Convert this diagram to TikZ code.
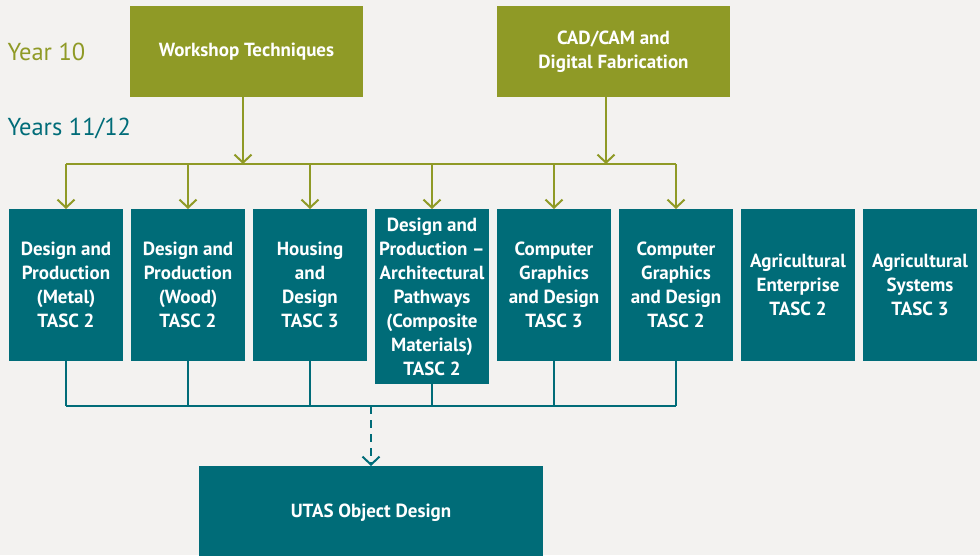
\documentclass[tikz,border=0pt]{standalone}
\usepackage{fontspec}
\setmainfont{PT Sans}
\usetikzlibrary{arrows.meta}
\definecolor{bgcol}{HTML}{F3F2F0}
\definecolor{yrolive}{HTML}{8F9A26}
\definecolor{yrteal}{HTML}{006C78}
\begin{document}
\begin{tikzpicture}[x=1pt,y=-1pt,
		olivebox/.style={fill=yrolive, text=white, inner sep=0pt, outer sep=0pt,
			minimum width=233, minimum height=91, align=center,
			font=\bfseries\fontsize{19}{24}\selectfont},
		tealbox/.style={fill=yrteal, text=white, inner sep=0pt, outer sep=0pt,
			minimum width=114, align=center, anchor=north,
			font=\bfseries\fontsize{19}{24}\selectfont},
		oliveline/.style={draw=yrolive, line width=2pt},
		tealline/.style={draw=yrteal, line width=2pt},
		tip/.style={-{Straight Barb[length=8pt,width=17pt]}}]
			% Background and page size
			\fill[bgcol] (0,0) rectangle (980,555);
			\useasboundingbox (0,0) rectangle (980,555);
			% Year labels
			\node[anchor=west, text=yrolive, font=\fontsize{24.5}{28}\selectfont] (y10) at (4,52) {Year 10};
			\node[anchor=west, text=yrteal, font=\fontsize{24.5}{28}\selectfont] (y11) at (4,128) {Years 11/12};
			% Year 10 courses
			\node[olivebox] (work) at (246.5,51.5) {Workshop Techniques};
			\node[olivebox] (cad) at (613.5,51.5) {CAD/CAM and\\Digital Fabrication};
			% Years 11/12 courses, one column every 122 px
			\foreach \i/\h/\txt in {
				1/152/{Design and\\Production\\(Metal)\\TASC 2},
				2/152/{Design and\\Production\\(Wood)\\TASC 2},
				3/152/{Housing\\and\\Design\\TASC 3},
				4/175/{Design and\\Production --\\Architectural\\Pathways\\(Composite\\Materials)\\TASC 2},
				5/152/{Computer\\Graphics\\and Design\\TASC 3},
				6/152/{Computer\\Graphics\\and Design\\TASC 2},
				7/152/{Agricultural\\Enterprise\\TASC 2},
				8/152/{Agricultural\\Systems\\TASC 3}} {
				\node[tealbox, minimum height=\h] (b\i) at ({66+122*(\i-1)},209) {\txt};
			}
			% University pathway
			\node[fill=yrteal, text=white, inner sep=0pt, outer sep=0pt, minimum width=344,
				minimum height=94, anchor=north, font=\bfseries\fontsize{19}{24}\selectfont]
				(utas) at (371,466) {UTAS Object Design};
			% Olive feed lines into the courses
			\draw[oliveline, tip] ([xshift=-3.5pt]work.south) -- ++(0,67);
			\draw[oliveline, tip] ([xshift=-7.5pt]cad.south) -- ++(0,67);
			\draw[oliveline] (b1.north |- 0,164) -- (b6.north |- 0,164);
			\foreach \i in {1,...,6} {
				\draw[oliveline, tip] (b\i.north |- 0,164) -- (b\i.north);
			}
			% Teal collector line and dashed link
			\foreach \i in {1,...,6} {
				\draw[tealline] (b\i.south) -- (b\i.south |- 0,406);
			}
			\draw[tealline] (b1.south |- 0,406) -- (b6.south |- 0,406);
			\draw[tealline, tip, dash pattern=on 8pt off 6pt] (utas.north |- 0,406) -- (utas.north);
		\end{tikzpicture}
\end{document}
